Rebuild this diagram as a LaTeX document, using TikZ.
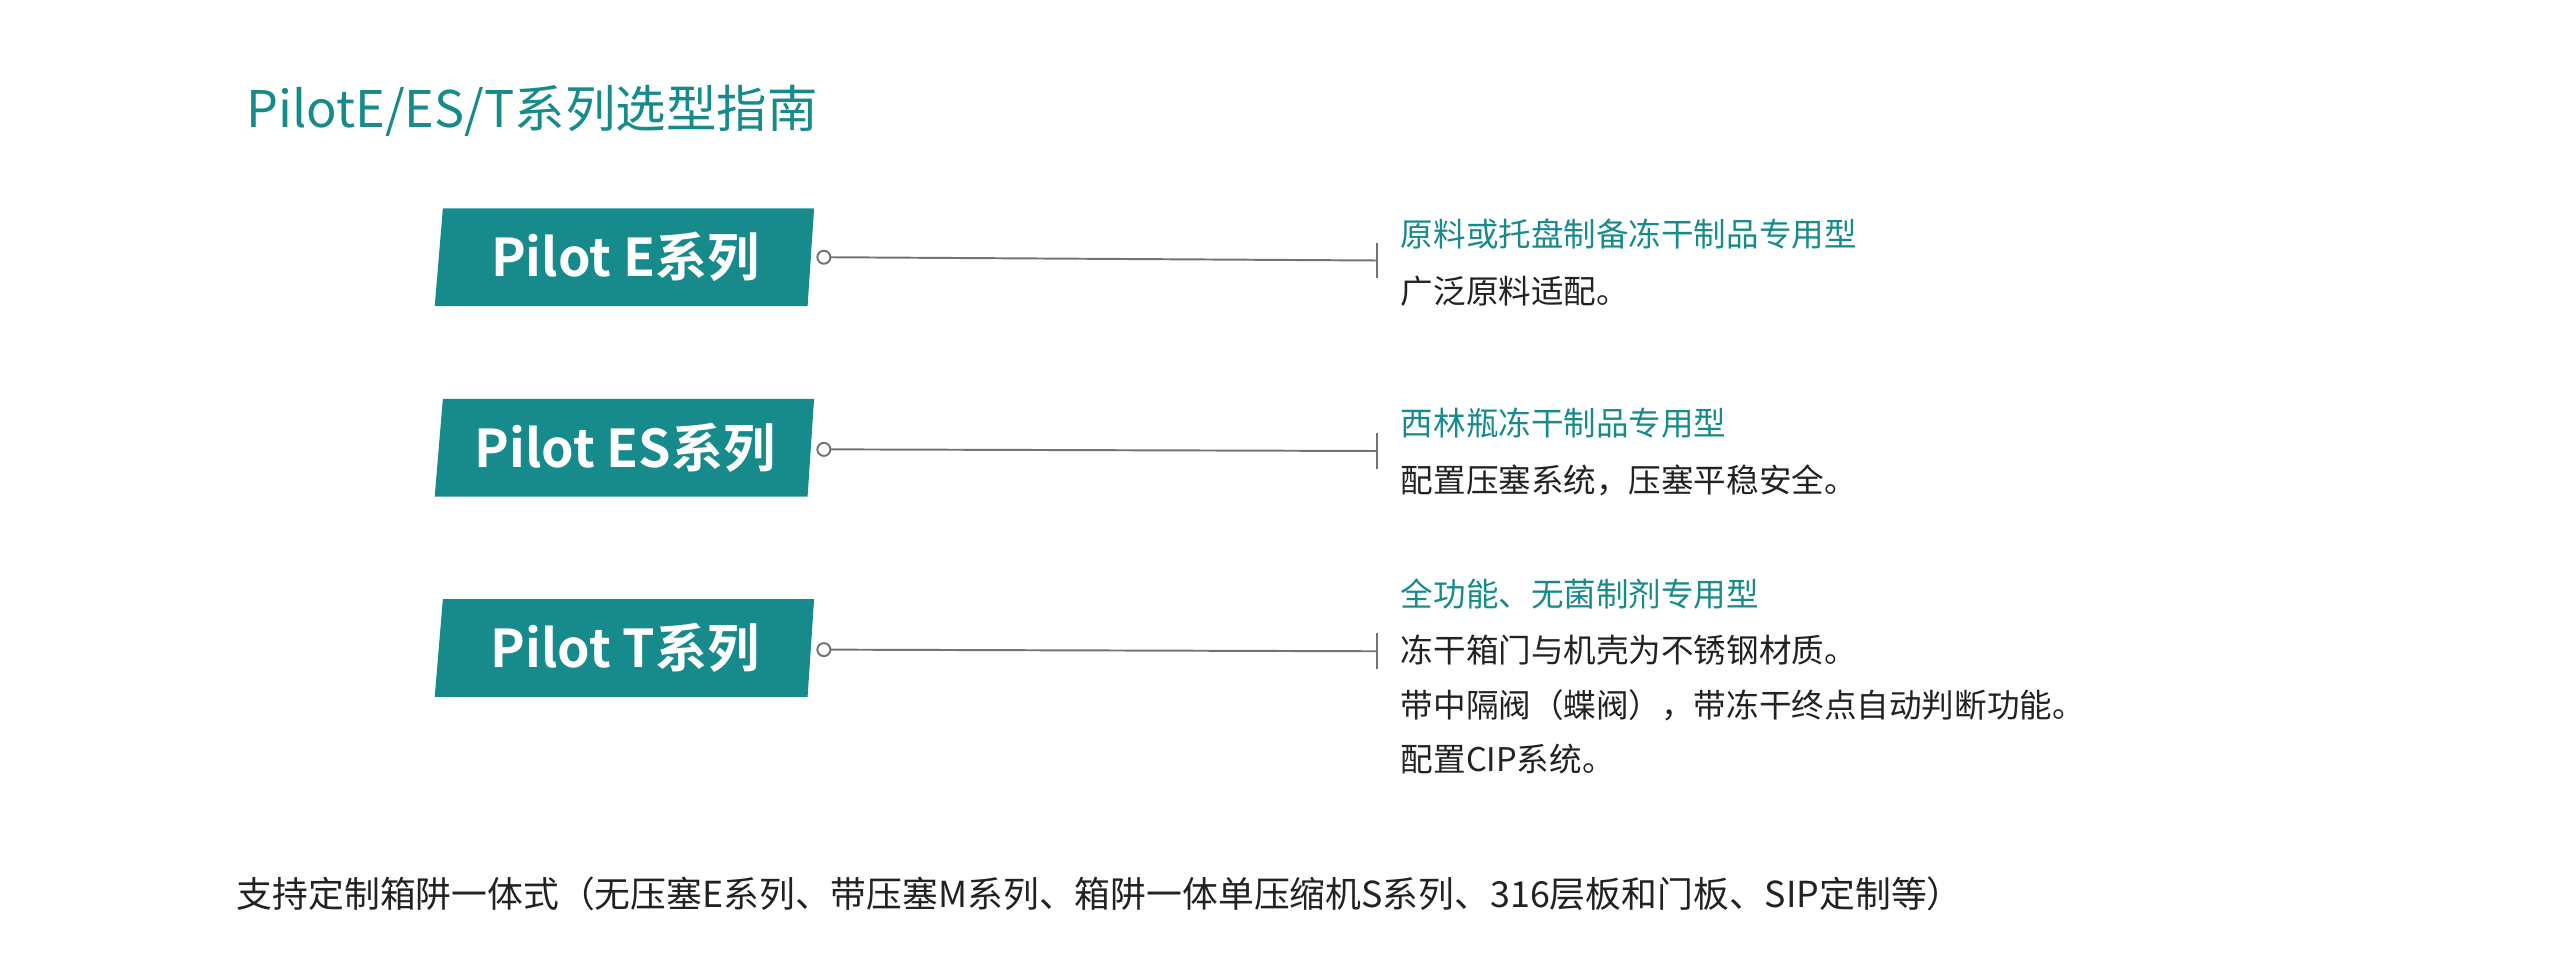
\documentclass[tikz,border=0pt]{standalone}
\usepackage{fontspec}
\setmainfont{Noto Sans CJK SC}
\newfontfamily\cjkb{Noto Sans CJK SC Bold}
\definecolor{teal1}{HTML}{178B8B}
\definecolor{txt}{HTML}{222222}
\begin{document}
\begin{tikzpicture}[x=0.5pt,y=-0.5pt,
  box/.style={fill=teal1,draw=none},
  boxtext/.style={text=white,font=\cjkb\fontsize{16}{18}\selectfont,anchor=center},
  head/.style={text=teal1,anchor=west,font=\fontsize{10}{12}\selectfont,inner sep=0},
  body/.style={text=txt,anchor=west,font=\fontsize{10}{12}\selectfont,inner sep=0},
  conn/.style={draw=gray!90!black,line width=0.6pt}]
\useasboundingbox (0,0) rectangle (1568,598);
\node[anchor=west,text=teal1,font=\fontsize{15.5}{18}\selectfont,inner sep=0] (title) at (151,68) {PilotE/ES/T系列选型指南};
% boxes
\foreach \n/\y/\t in {e/128/Pilot E系列, es/245/Pilot ES系列, t/368/Pilot T系列}{
  \fill[box] (272,\y) -- (500,\y) -- (496,\y+60) -- (267,\y+60) -- cycle;
  \node[boxtext] (b\n) at (384,\y+30) {\t};
}
\foreach \n/\ya/\yb in {e/158/160, es/276/277, t/399/400}{
  \coordinate (c\n) at (506,\ya);
  \coordinate (k\n) at (846,\yb);
  \draw[conn] (c\n) ++(4,0) -- (k\n);
  \draw[conn] (c\n) circle (4);
  \draw[conn] (846,\yb-11) -- (846,\yb+11);
}
\node[head] (he) at (860,144) {原料或托盘制备冻干制品专用型};
\node[body] (be) at (860,179) {广泛原料适配。};
\node[head] (hes) at (860,260) {西林瓶冻干制品专用型};
\node[body] (bes) at (860,295) {配置压塞系统，压塞平稳安全。};
\node[head] (ht) at (860,365) {全功能、无菌制剂专用型};
\node[body] (bt1) at (860,399) {冻干箱门与机壳为不锈钢材质。};
\node[body] (bt2) at (860,433) {带中隔阀（蝶阀），带冻干终点自动判断功能。};
\node[body] (bt3) at (860,466) {配置CIP系统。};
\node[anchor=west,text=txt,font=\fontsize{11}{13}\selectfont,inner sep=0] (foot) at (145,549) {支持定制箱阱一体式（无压塞E系列、带压塞M系列、箱阱一体单压缩机S系列、316层板和门板、SIP定制等）};
\end{tikzpicture}
\end{document}
